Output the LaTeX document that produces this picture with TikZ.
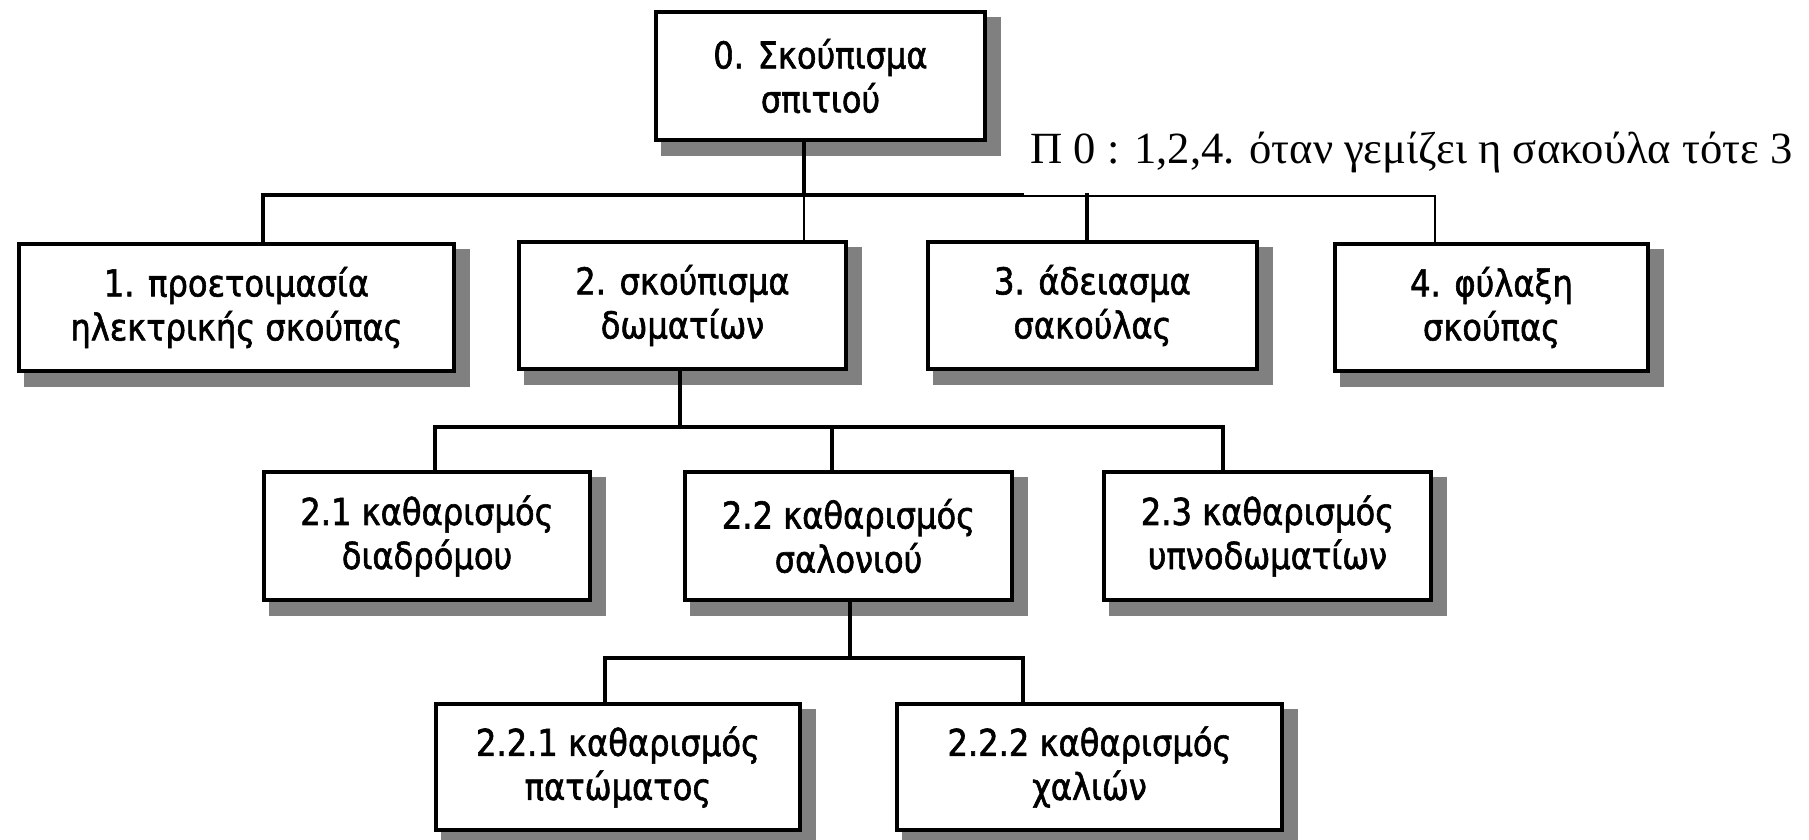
\documentclass[tikz,border=0pt]{standalone}
\usepackage{fontspec}
\setmainfont{DejaVu Sans}[FakeStretch=0.87, FakeBold=1.6]
\newfontfamily\notefont{Liberation Serif}
\usetikzlibrary{positioning}
\pgfdeclarelayer{background}
\pgfsetlayers{background,main}
\definecolor{shadowgray}{RGB}{128,128,128}
\tikzset{
  task/.style={draw=black, line width=2pt, fill=white, inner sep=0pt, align=center,
    font=\fontsize{18.5}{22}\selectfont},
  conn/.style={line width=1.6pt, line cap=rect},
  thinconn/.style={line width=1.1pt, line cap=rect},
  shadowbox/.style={fill=shadowgray}
}
\newcommand{\boxshadow}[1]{\fill[shadowbox] ([shift={(7,7)}]#1.north west) rectangle ([shift={(14,14)}]#1.south east);}
\begin{document}
\begin{tikzpicture}[x=0.5pt, y=-0.5pt]
\useasboundingbox (0,0) rectangle (1809,840);
% nodes
\node[task, minimum width=164.5pt, minimum height=64pt]   (n0)   at (820.5,76)   {0. Σκούπισμα\\σπιτιού};
\node[task, minimum width=217.5pt, minimum height=63.5pt] (n1)   at (236.5,307.5){1. προετοιμασία\\ηλεκτρικής σκούπας};
\node[task, minimum width=163.5pt, minimum height=63.5pt] (n2)   at (682.5,305.5){2. σκούπισμα\\δωματίων};
\node[task, minimum width=164.5pt, minimum height=63.5pt] (n3)   at (1092.5,305.5){3. άδειασμα\\σακούλας};
\node[task, minimum width=156.5pt, minimum height=63.5pt] (n4)   at (1491.5,307.5){4. φύλαξη\\σκούπας};
\node[task, minimum width=163pt,   minimum height=64pt]   (n21)  at (427,536)    {2.1 καθαρισμός\\διαδρόμου};
\node[task, minimum width=163.5pt, minimum height=64pt]   (n22)  at (848.5,536)  {2.2 καθαρισμός\\σαλονιού};
\node[task, minimum width=163.5pt, minimum height=64pt]   (n23)  at (1267.5,536) {2.3 καθαρισμός\\υπνοδωματίων};
\node[task, minimum width=182pt,   minimum height=63pt]   (n221) at (618,767)    {2.2.1 καθαρισμός\\πατώματος};
\node[task, minimum width=192.5pt, minimum height=63pt]   (n222) at (1089.5,767) {2.2.2 καθαρισμός\\χαλιών};
\node[anchor=base west, inner sep=0pt, font=\notefont\fontsize{22.3}{26}\selectfont] (note) at (1030,163)
  {Π 0 : 1,2,4. όταν γεμίζει η σακούλα τότε 3};
% shadows
\begin{pgfonlayer}{background}
\boxshadow{n0}\boxshadow{n1}\boxshadow{n2}\boxshadow{n3}\boxshadow{n4}
\boxshadow{n21}\boxshadow{n22}\boxshadow{n23}\boxshadow{n221}\boxshadow{n222}
\end{pgfonlayer}
% level 1 connectors
\coordinate (c1) at (263,195);
\coordinate (c2) at (804,195);
\coordinate (cm) at (1022,195);
\coordinate (c3) at (1087,195);
\coordinate (c4) at (1435,196);
\draw[conn] (n0.south -| c2) -- (c2);
\draw[conn] (n1.north -| c1) -- (c1) -- (cm);
\draw[thinconn] (cm |- c4) -- (c4) -- (c4 |- n4.north);
\draw[conn] (c3) -- (c3 |- n3.north);
\draw[thinconn] (c2) -- (c2 |- n2.north);
% level 2 connectors
\coordinate (d0) at (680,427);
\coordinate (d1) at (435,427);
\coordinate (d2) at (832,427);
\coordinate (d3) at (1223,427);
\draw[conn] (n2.south -| d0) -- (d0);
\draw[conn] (n21.north -| d1) -- (d1) -- (d3) -- (d3 |- n23.north);
\draw[conn] (d2) -- (d2 |- n22.north);
% level 3 connectors
\coordinate (e0) at (850,658);
\coordinate (e1) at (605,658);
\coordinate (e2) at (1023,658);
\draw[conn] (n22.south -| e0) -- (e0);
\draw[conn] (n221.north -| e1) -- (e1) -- (e2) -- (e2 |- n222.north);
\end{tikzpicture}
\end{document}
